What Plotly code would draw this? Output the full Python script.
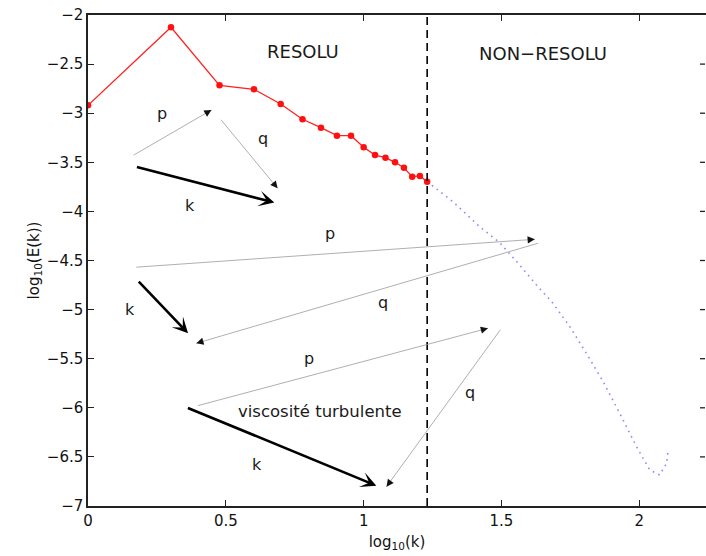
import numpy as np
import plotly.graph_objects as go

# Resolved spectrum: log10(E(k)) for k = 1..17
k_resolved = np.arange(1, 18)
logE_resolved = [-2.92, -2.125, -2.716, -2.757, -2.906, -3.062, -3.147, -3.229,
                 -3.229, -3.347, -3.426, -3.453, -3.500, -3.555, -3.646, -3.639,
                 -3.697]

# Unresolved part of the spectrum (log10 k, log10 E)
logk_unresolved = [1.2304, 1.324, 1.421, 1.494, 1.566, 1.627, 1.687, 1.748,
                   1.808, 1.869, 1.929, 1.990, 2.038, 2.074, 2.099, 2.104]
logE_unresolved = [-3.697, -3.901, -4.156, -4.319, -4.546, -4.749, -4.936,
                   -5.174, -5.445, -5.734, -6.056, -6.396, -6.633, -6.684,
                   -6.565, -6.447]

# Cutoff wavenumber separating resolved / unresolved scales
k_cut = 17

# Triadic interactions: (tail x, tail y, head x, head y, thick)
arrows = [
    (0.160, -3.436, 0.448, -2.967, False),   # p
    (0.478, -3.052, 0.688, -3.765, False),   # q
    (0.172, -3.545, 0.676, -3.910, True),    # k
    (0.170, -4.569, 1.621, -4.284, False),   # p
    (1.639, -4.319, 0.393, -5.343, False),   # q
    (0.179, -4.699, 0.363, -5.241, True),    # k
    (0.393, -5.982, 1.451, -5.190, False),   # p
    (1.500, -5.190, 1.083, -6.803, False),   # q
    (0.357, -5.995, 1.046, -6.793, True),    # k
]

# Text labels: (x, y, text, size)
labels = [
    (0.779, -2.374, "RESOLU", 18),
    (1.650, -2.390, "NON\u2212RESOLU", 18),
    (0.270, -3.001, "p", 16),
    (0.635, -3.256, "q", 16),
    (0.369, -3.935, "k", 16),
    (0.877, -4.220, "p", 16),
    (1.069, -4.923, "q", 16),
    (0.151, -5.004, "k", 16),
    (0.801, -5.493, "p", 16),
    (1.385, -5.849, "q", 16),
    (0.612, -6.582, "k", 16),
    (0.841, -6.040, "viscosité turbulente", 16.5),
]

x_ticks = [0, 0.5, 1, 1.5, 2]
y_ticks = [-7, -6.5, -6, -5.5, -5, -4.5, -4, -3.5, -3, -2.5, -2]

FONT = "DejaVu Sans"
AXIS_COLOR = "#222222"

X_RANGE = [0, 2.242]
Y_RANGE = [-7, -2]
WIDTH, HEIGHT = 706, 556
MARGIN = dict(l=88, r=0, t=15, b=50)

# pixels per data unit, used to orient the short head-only arrows
px_x = (WIDTH - MARGIN["l"] - MARGIN["r"]) / (X_RANGE[1] - X_RANGE[0])
px_y = (HEIGHT - MARGIN["t"] - MARGIN["b"]) / (Y_RANGE[1] - Y_RANGE[0])

fig = go.Figure()

fig.add_trace(go.Scatter(
    x=logk_unresolved, y=logE_unresolved, mode="lines",
    line=dict(color="rgba(90,90,255,0.7)", width=1.6, dash="1.6px,4.4px"),
    hoverinfo="skip", showlegend=False,
))

fig.add_trace(go.Scatter(
    x=np.log10(k_resolved), y=logE_resolved, mode="lines+markers",
    line=dict(color="#ff2020", width=1.3),
    marker=dict(color="#ff1010", size=6.5),
    hoverinfo="skip", showlegend=False,
))

fig.add_trace(go.Scatter(
    x=[np.log10(k_cut)] * 2, y=Y_RANGE, mode="lines",
    line=dict(color="black", width=1.6, dash="8px,5px"),
    hoverinfo="skip", showlegend=False,
))

annotations = []
for tx, ty, hx, hy, thick in arrows:
    common = dict(xref="x", yref="y", axref="x", ayref="y", text="",
                  showarrow=True, standoff=0, startstandoff=0)
    if thick:
        annotations.append(dict(
            x=hx, y=hy, ax=tx, ay=ty, arrowhead=3, arrowsize=1.0,
            arrowwidth=2.6, arrowcolor="#000000", **common))
    else:
        # light grey shaft
        annotations.append(dict(
            x=hx, y=hy, ax=tx, ay=ty, arrowhead=0, arrowwidth=0.8,
            arrowcolor="#9a9a9a", **common))
        # dark head on a short segment ending at the same point
        dxp, dyp = (hx - tx) * px_x, (hy - ty) * px_y
        n = np.hypot(dxp, dyp)
        seg = 8.0
        sx = hx - dxp / n * seg / px_x
        sy = hy - dyp / n * seg / px_y
        annotations.append(dict(
            x=hx, y=hy, ax=sx, ay=sy, arrowhead=2, arrowsize=1.6,
            arrowwidth=0.9, arrowcolor="#111111", **common))
for x, y, t, s in labels:
    annotations.append(dict(
        x=x, y=y, xref="x", yref="y", text=t, showarrow=False,
        font=dict(family=FONT, size=s, color="#1a1a1a"),
    ))

# inward ticks along the right-hand edge of the axes box
right_ticks = [
    dict(type="line", xref="paper", yref="y", xsizemode="pixel", xanchor=1,
         x0=-6, x1=-1, y0=v, y1=v, line=dict(color=AXIS_COLOR, width=1.3))
    for v in y_ticks[1:-1]
]

axis_common = dict(
    showgrid=False, zeroline=False, showline=True, linecolor=AXIS_COLOR,
    linewidth=1.5, ticks="inside", ticklen=6, tickwidth=1.3,
    tickcolor=AXIS_COLOR, tickfont=dict(family=FONT, size=15, color="#111111"),
)

fig.update_layout(
    width=WIDTH, height=HEIGHT, autosize=False,
    margin=MARGIN,
    paper_bgcolor="white", plot_bgcolor="white",
    annotations=annotations,
    shapes=right_ticks,
    xaxis=dict(
        range=X_RANGE, tickvals=x_ticks, ticktext=[f"{v:g}" for v in x_ticks],
        mirror="ticks",
        title=dict(text="log<sub>10</sub>(k)", standoff=8,
                   font=dict(family=FONT, size=15, color="#111111")),
        **axis_common,
    ),
    yaxis=dict(
        range=Y_RANGE, tickvals=y_ticks,
        ticktext=[f"{v:g}".replace("-", "\u2212") for v in y_ticks],
        title=dict(text="log<sub>10</sub>(E(k))", standoff=4,
                   font=dict(family=FONT, size=15, color="#111111")),
        **axis_common,
    ),
)

fig.write_html("out.html", config={"displayModeBar": False})
